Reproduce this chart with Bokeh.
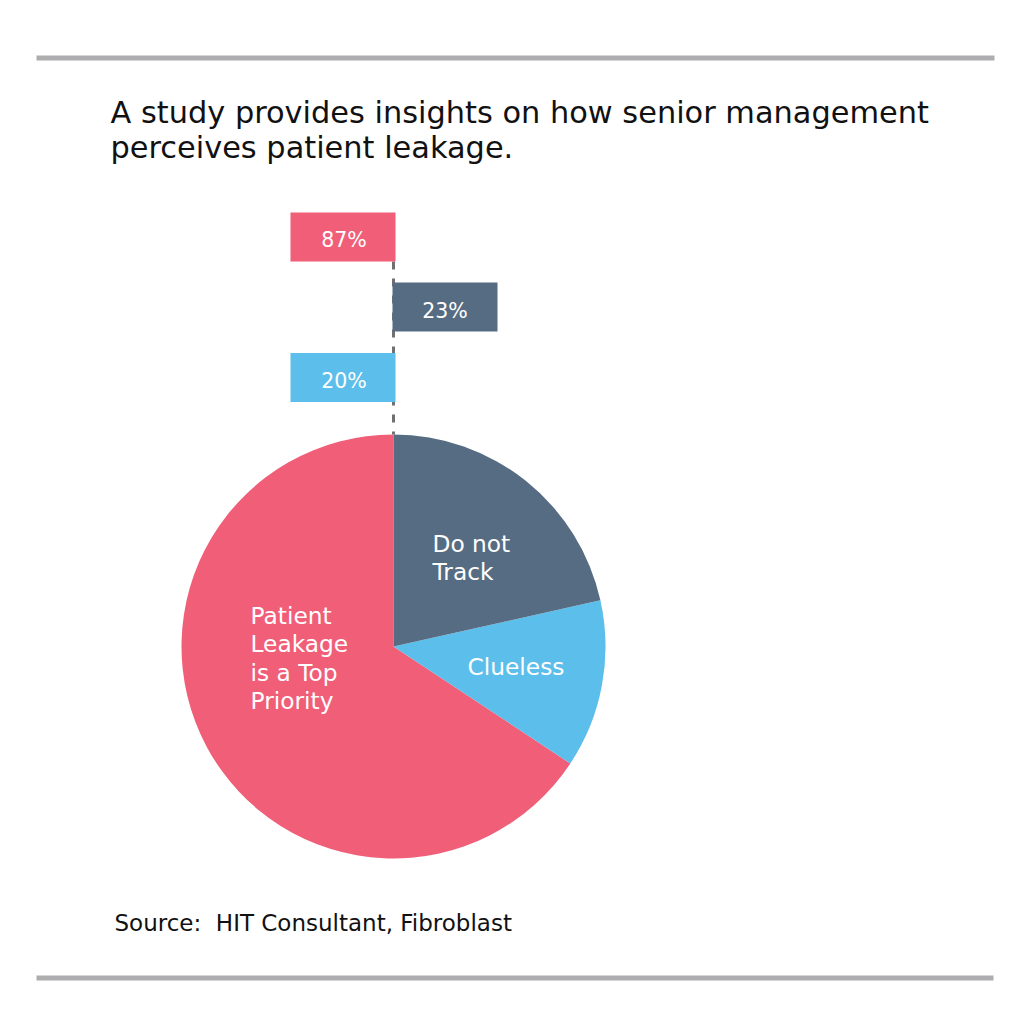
import math
from bokeh.plotting import figure
from bokeh.models import Range1d
from bokeh.core.properties import value
from bokeh.embed import file_html
from bokeh.resources import INLINE

# ---- data ----
categories = ["Patient Leakage is a Top Priority", "Do not Track", "Clueless"]
label_pct = [87, 23, 20]                 # percentages printed on the flags
slice_share = [65.7, 21.5, 12.8]         # share of the circle as drawn in the pie
colors = ["#F05E78", "#566C83", "#5CBEEA"]
title_lines = ["A study provides insights on how senior management",
               "perceives patient leakage."]
source_text = "Source:\u00a0 HIT Consultant, Fibroblast"

FONT = "DejaVu Sans"
W, H = 1008, 1000
BL = 0.32  # shift from bokeh's baseline handling to the visual baseline (em)

def Y(sy):
    # screen pixel -> data y
    return 1021 - sy

def TY(sy, size):
    # visual baseline at screen y for a font of given px size
    return Y(sy - BL * size)

p = figure(width=W, height=H, output_backend="svg", toolbar_location=None,
           x_range=Range1d(0, W), y_range=Range1d(Y(H), Y(0)),
           min_border=0, background_fill_color="white", border_fill_color="white")
p.axis.visible = False
p.grid.visible = False
p.outline_line_color = None

# rules
p.segment(x0=[36, 36], y0=[Y(57.5), Y(977.5)], x1=[994, 993], y1=[Y(57.5), Y(977.5)],
          line_color="#ADADAF", line_width=5)

# title
ts = 30.4
p.text(x=[110, 110], y=[TY(122, ts), TY(157, ts)], text=title_lines, text_font=value(FONT),
       text_font_size=f"{ts}px", text_color="#111111",
       text_baseline="alphabetic", text_align="left")

# pie
cx, cy, r = 393, Y(646), 212
order = [0, 2, 1]  # anticlockwise from 12 o'clock: pink, light, dark
starts, ends, cols = [], [], []
a = 90.0
total = sum(slice_share)
for i in order:
    span = slice_share[i] / total * 360.0
    starts.append(math.radians(a))
    ends.append(math.radians(a + span))
    cols.append(colors[i])
    a += span
p.wedge(x=[cx] * 3, y=[cy] * 3, radius=r, start_angle=starts, end_angle=ends,
        fill_color=cols, line_color=None, direction="anticlock")

# dashed leader
p.segment(x0=[cx], y0=[Y(261)], x1=[cx], y1=[cy + r], line_color="#707070",
          line_width=3, line_dash="8 9")

# flags
fs = 20.5
flag_x = [342.5, 444.5, 342.5]
flag_y = [Y(236.5), Y(306.5), Y(377)]
p.rect(x=flag_x, y=flag_y, width=105, height=49, fill_color=colors, line_color=None)
p.text(x=[343.5, 444.5, 343.5], y=[TY(246.5, fs), TY(317, fs), TY(387, fs)],
       text=[f"{v}%" for v in label_pct], text_font=value(FONT),
       text_font_size=f"{fs}px", text_color="white", text_align="center",
       text_baseline="alphabetic")

# slice labels
ls = 23.3
lab_x = [250] * 4 + [432, 432, 467]
lab_y = [TY(s, ls) for s in (622, 650, 679, 707, 550, 578, 673)]
lab_t = ["Patient", "Leakage", "is a Top", "Priority", "Do not", "Track", "Clueless"]
p.text(x=lab_x, y=lab_y, text=lab_t, text_font=value(FONT), text_font_size=f"{ls}px",
       text_color="white", text_align="left", text_baseline="alphabetic")

# source
ss = 23
p.text(x=[114], y=[TY(930, ss)], text=[source_text], text_font=value(FONT),
       text_font_size=f"{ss}px", text_color="#111111", text_align="left",
       text_baseline="alphabetic")

open("out.html", "w").write(file_html(p, INLINE))
